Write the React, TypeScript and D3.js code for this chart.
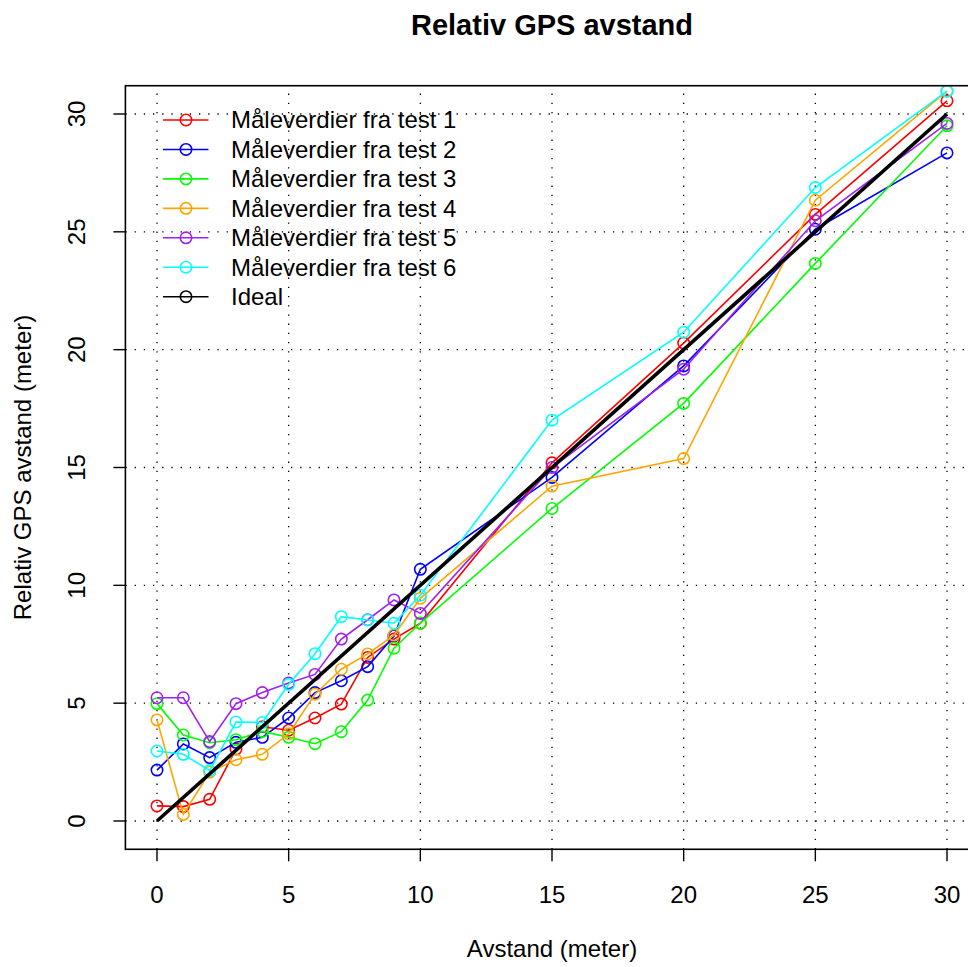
import React from "react";
import * as d3 from "d3";

const xs = [0, 1, 2, 3, 4, 5, 6, 7, 8, 9, 10, 15, 20, 25, 30];
const test1 = [0.64, 0.61, 0.92, 3.05, 4.0, 3.85, 4.37, 4.96, 6.94, 7.72, 8.39, 15.2, 20.28, 25.74, 30.56];
const test2 = [2.16, 3.27, 2.69, 3.34, 3.55, 4.37, 5.45, 5.95, 6.55, 7.85, 10.68, 14.58, 19.31, 25.11, 28.35];
const test3 = [4.98, 3.65, 3.32, 3.45, 3.8, 3.55, 3.28, 3.79, 5.13, 7.33, 8.4, 13.26, 17.72, 23.66, 29.5];
const test4 = [4.29, 0.28, 2.07, 2.6, 2.83, 3.7, 5.38, 6.44, 7.09, 7.89, 9.45, 14.21, 15.38, 26.34, 30.97];
const test5 = [5.23, 5.23, 3.37, 4.98, 5.45, 5.86, 6.22, 7.72, 8.54, 9.38, 8.81, 15.0, 19.17, 25.47, 29.6];
const test6 = [2.97, 2.83, 2.14, 4.2, 4.18, 5.8, 7.1, 8.67, 8.53, 8.39, 9.58, 17.01, 20.74, 26.88, 30.97];
const idealX = [0, 30];
const idealY = [0, 30];

const seriesNames = [
  "Måleverdier fra test 1",
  "Måleverdier fra test 2",
  "Måleverdier fra test 3",
  "Måleverdier fra test 4",
  "Måleverdier fra test 5",
  "Måleverdier fra test 6",
  "Ideal",
];
const seriesColors = ["#FF0000", "#0000FF", "#00FF00", "#FFA500", "#A020F0", "#00FFFF", "#000000"];
const seriesValues = [test1, test2, test3, test4, test5, test6];
const tickValues = [0, 5, 10, 15, 20, 25, 30];

const W = 968;
const H = 967;
const FONT = "Liberation Sans, Arial, Helvetica, sans-serif";

export default function App() {
  const x = d3.scaleLinear().domain([0, 30]).range([157, 947]);
  const y = d3.scaleLinear().domain([0, 30]).range([821, 114]);
  const left = x(-1.2);
  const right = x(31.2);
  const top = y(31.2);
  const bottom = y(-1.2);

  const line = d3
    .line<[number, number]>()
    .x((d) => x(d[0]))
    .y((d) => y(d[1]));

  const legendRowY = (i: number) => 120 + i * 29.45;

  return (
    <svg
      width={W}
      height={H}
      style={{ position: "absolute", left: 0, top: 0, display: "block", background: "#fff" }}
      fontFamily={FONT}
    >
      <defs>
        <clipPath id="plotclip">
          <rect x={left} y={top} width={right - left} height={bottom - top} />
        </clipPath>
      </defs>
      <rect x={0} y={0} width={W} height={H} fill="#fff" />

      {/* grid */}
      <g stroke="#000" strokeWidth={1.3} strokeDasharray="1.3 7.9">
        {tickValues.map((t) => (
          <line key={"gx" + t} x1={x(t)} x2={x(t)} y1={bottom} y2={top} />
        ))}
        {tickValues.map((t) => (
          <line key={"gy" + t} x1={left} x2={right} y1={y(t)} y2={y(t)} />
        ))}
      </g>

      {/* series */}
      <g clipPath="url(#plotclip)">
        {seriesValues.map((vals, si) => {
          const pts: [number, number][] = xs.map((xv, i) => [xv, vals[i]]);
          return (
            <g key={"s" + si}>
              <path d={line(pts) || ""} fill="none" stroke={seriesColors[si]} strokeWidth={1.6} />
              {pts.map((p, i) => (
                <circle
                  key={i}
                  cx={x(p[0])}
                  cy={y(p[1])}
                  r={5.7}
                  fill="none"
                  stroke={seriesColors[si]}
                  strokeWidth={1.6}
                />
              ))}
            </g>
          );
        })}
        <path
          d={line(idealX.map((v, i) => [v, idealY[i]] as [number, number])) || ""}
          fill="none"
          stroke="#000"
          strokeWidth={3.6}
        />
      </g>

      {/* box */}
      <rect x={left} y={top} width={right - left} height={bottom - top} fill="none" stroke="#000" strokeWidth={1.6} />

      {/* x axis */}
      <g>
        {tickValues.map((t) => (
          <g key={"xt" + t}>
            <line x1={x(t)} x2={x(t)} y1={bottom} y2={bottom + 12} stroke="#000" strokeWidth={1.4} />
            <text x={x(t)} y={903} textAnchor="middle" fontSize={24}>
              {t}
            </text>
          </g>
        ))}
      </g>

      {/* y axis */}
      <g>
        {tickValues.map((t) => (
          <g key={"yt" + t}>
            <line x1={left} x2={left - 12} y1={y(t)} y2={y(t)} stroke="#000" strokeWidth={1.4} />
            <text
              transform={`translate(85,${y(t)}) rotate(-90)`}
              textAnchor="middle"
              fontSize={24}
            >
              {t}
            </text>
          </g>
        ))}
      </g>

      {/* titles */}
      <text x={(left + right) / 2} y={35} textAnchor="middle" fontSize={29} fontWeight="bold">
        Relativ GPS avstand
      </text>
      <text x={(left + right) / 2} y={957} textAnchor="middle" fontSize={24}>
        Avstand (meter)
      </text>
      <text
        transform={`translate(31,${(top + bottom) / 2}) rotate(-90)`}
        textAnchor="middle"
        fontSize={24}
      >
        Relativ GPS avstand (meter)
      </text>

      {/* legend */}
      <g>
        {seriesNames.map((name, i) => (
          <g key={"lg" + i}>
            <line
              x1={163}
              x2={208.5}
              y1={legendRowY(i)}
              y2={legendRowY(i)}
              stroke={seriesColors[i]}
              strokeWidth={1.6}
            />
            <circle cx={186} cy={legendRowY(i)} r={5.7} fill="none" stroke={seriesColors[i]} strokeWidth={1.6} />
            <text x={231} y={legendRowY(i)} dy="0.35em" fontSize={24}>
              {name}
            </text>
          </g>
        ))}
      </g>
    </svg>
  );
}
